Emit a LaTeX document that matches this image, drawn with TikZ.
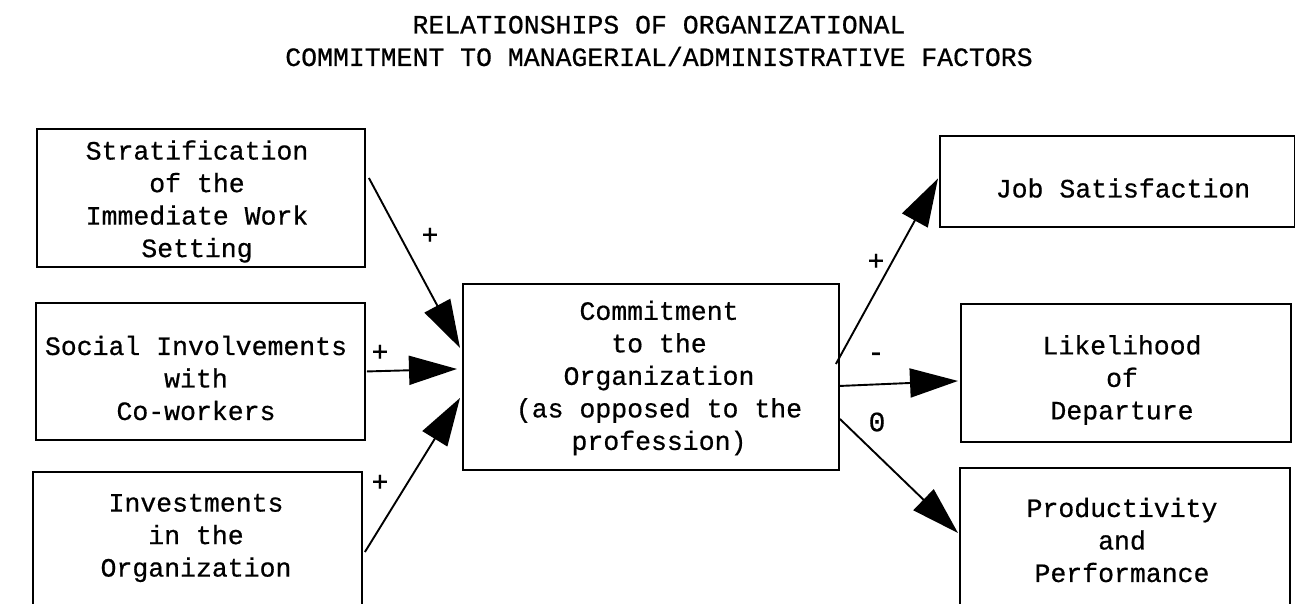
\documentclass[tikz,border=0pt]{standalone}
\usepackage{fontspec}
\setmonofont{Liberation Mono}[FakeBold=0.6]
\usetikzlibrary{arrows.meta,calc}

\begin{document}
\begin{tikzpicture}[x=1pt,y=-1pt,
  txt/.style={font=\ttfamily\fontsize{26.5}{32.5}\selectfont, align=center, inner sep=0pt},
  boxshape/.style={draw, line width=1.9pt, rectangle, inner sep=0pt, anchor=north west},
  link/.style={line width=1.9pt, -{Triangle[length=48pt,width=29pt]}},
  sign/.style={font=\ttfamily\fontsize{28}{32.5}\selectfont, inner sep=0pt}]

  % page frame
  \clip (0,0) rectangle (1295,603);
  \fill[white] (0,0) rectangle (1295,603);

  % title
  \node[txt] (title) at (659,41) {RELATIONSHIPS OF ORGANIZATIONAL\\COMMITMENT TO MANAGERIAL/ADMINISTRATIVE FACTORS};

  % left column: factors
  \node[boxshape, minimum width=328, minimum height=138] (strat) at (36,128) {};
  \node[txt] (strattxt) at (197,201.5) {Stratification\\of the\\Immediate Work\\Setting};

  \node[boxshape, minimum width=329, minimum height=137] (social) at (35,302) {};
  \node[txt] (socialtxt) at (196,378) {Social Involvements\\with\\Co-workers};

  \node[boxshape, minimum width=329, minimum height=160] (invest) at (32,471) {};
  \node[txt] (investtxt) at (196,538) {Investments\\in the\\Organization};

  % centre: commitment
  \node[boxshape, minimum width=376, minimum height=186] (commit) at (462,283) {};
  \node[txt] (committxt) at (659,378) {Commitment\\to the\\Organization\\(as opposed to the\\profession)};

  % right column: outcomes
  \node[boxshape, minimum width=355, minimum height=91] (job) at (939,135) {};
  \node[txt] (jobtxt) at (1123,188) {Job Satisfaction};

  \node[boxshape, minimum width=330, minimum height=138] (like) at (960,303) {};
  \node[txt] (liketxt) at (1122,380) {Likelihood\\of\\Departure};

  \node[boxshape, minimum width=330, minimum height=160] (prod) at (959,467) {};
  \node[txt] (prodtxt) at (1122,540) {Productivity\\and\\Performance};

  % connectors into the commitment box
  \draw[link] ($(strat.north east)+(3,50)$) -- ($(commit.west)+(-2,-29)$);
  \draw[link] ($(social.east)+(1,0)$) -- ($(commit.west)+(-5,-8)$);
  \draw[link] ($(invest.north east)+(2,81)$) -- ($(commit.west)+(-2,21)$);

  % connectors out of the commitment box
  \draw[link] ($(commit.east)+(-4,-13)$) -- ($(job.west)+(-1,-3)$);
  \draw[link] ($(commit.east)+(0,9)$) -- ($(like.west)+(-2,8)$);
  \draw[link] ($(commit.east)+(0,42)$) -- ($(prod.north west)+(-1,66)$);

  % signs on the links
  \node[sign] (s1) at (430,236) {+};
  \node[sign] (s2) at (380,353) {+};
  \node[sign] (s3) at (380,483) {+};
  \node[sign] (s4) at (876,262) {+};
  \node[sign] (s5) at (876,357) {-};
  \node[sign] (s6) at (877,422) {0};
\end{tikzpicture}
\end{document}
